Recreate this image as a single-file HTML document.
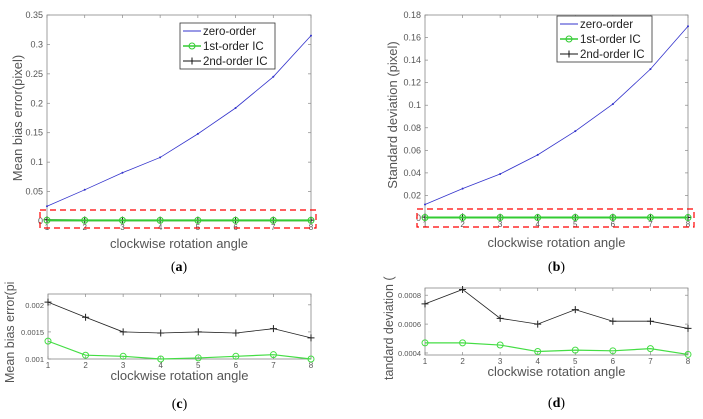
<!DOCTYPE html>
<html><head><meta charset="utf-8"><style>
body{margin:0;background:#fff;width:703px;height:419px;overflow:hidden;font-family:"Liberation Sans",sans-serif}
svg{display:block}
</style></head><body>
<svg id="s" width="703" height="419" xmlns="http://www.w3.org/2000/svg"></svg>
<script>
const cats=[1,2,3,4,5,6,7,8];
const aZero=[0.025,0.053,0.082,0.108,0.148,0.192,0.245,0.315];
const aFirst=[0.00133,0.00107,0.00105,0.001,0.00102,0.00105,0.00108,0.001];
const aSecond=[0.00205,0.00177,0.0015,0.00148,0.0015,0.00148,0.00156,0.00139];
const bZero=[0.012,0.026,0.039,0.056,0.077,0.101,0.132,0.170];
const bFirst=[0.00047,0.00047,0.000455,0.00041,0.00042,0.000415,0.00043,0.00039];
const bSecond=[0.00074,0.00084,0.00064,0.0006,0.0007,0.00062,0.00062,0.00057];
const aTicks=[0,0.05,0.1,0.15,0.2,0.25,0.3,0.35];
const bTicks=[0,0.02,0.04,0.06,0.08,0.1,0.12,0.14,0.16,0.18];
const cTicks=[0.001,0.0015,0.002];
const dTicks=[0.0004,0.0006,0.0008];
const S=document.getElementById('s');
const NS='http://www.w3.org/2000/svg';
function mk(t,a,p){const e=document.createElementNS(NS,t);for(const k in a)e.setAttribute(k,a[k]);(p||S).appendChild(e);return e;}
function panel(o){
  const g=mk('g',{});
  
  
  const X=v=>o.x0+(v-1)/7*(o.x1-o.x0);
  const Y=v=>o.yb+(v-o.ymin)/(o.ymax-o.ymin)*(o.yt-o.yb);
  const fr=mk('rect',{x:o.x0,y:o.yt,width:o.x1-o.x0,height:o.yb-o.yt,fill:'#fff',stroke:'#888','stroke-width':0.8},g);
  
  o.ticks.forEach((t,i)=>{const y=Y(t);
    mk('line',{x1:o.x0,x2:o.x0+3,y1:y,y2:y,stroke:'#888','stroke-width':0.7},g);
    mk('line',{x1:o.x1,x2:o.x1-3,y1:y,y2:y,stroke:'#888','stroke-width':0.7},g);
    const tx=mk('text',{x:o.x0-4,y:y+3,'text-anchor':'end','font-size':o.tf,fill:'#555'},g);tx.textContent=o.tl[i];
    });
  cats.forEach(c=>{const x=X(c);
    mk('line',{x1:x,x2:x,y1:o.yb,y2:o.yb-3,stroke:'#888','stroke-width':0.7},g);
    mk('line',{x1:x,x2:x,y1:o.yt,y2:o.yt+3,stroke:'#888','stroke-width':0.7},g);
    const tx=mk('text',{x:x,y:o.yb+9,'text-anchor':'middle','font-size':8,fill:'#555'},g);tx.textContent=c;
    });
  o.series.forEach(s=>{
    const pts=s.d.map((v,i)=>X(cats[i])+','+Y(v)).join(' ');
    const l=mk('polyline',{points:pts,fill:'none',stroke:s.c,'stroke-width':s.w},g);
    
    s.d.forEach((v,i)=>{const x=X(cats[i]),y=Y(v);
      if(s.m==='o'){const m=mk('circle',{cx:x,cy:y,r:3,fill:'none',stroke:s.c,'stroke-width':1},g);}
      if(s.m==='+'){const m=mk('path',{d:`M${x-3.5},${y}h7M${x},${y-3.5}v7`,stroke:s.c,'stroke-width':1},g);}
      if(s.m==='.'){const m=mk('circle',{cx:x,cy:y,r:1,fill:s.c},g);}
    });
  });
  const xl=mk('text',{x:(o.x0+o.x1)/2,y:o.xly,'text-anchor':'middle','font-size':13,fill:'#555'},g);xl.textContent='clockwise rotation angle';
  
  const yl=mk('text',{x:0,y:0,transform:`translate(${o.ylx},${o.yly}) rotate(-90)`,'text-anchor':o.yla,'font-size':o.ylf||13,fill:'#555'},g);yl.textContent=o.ylab;
  
  const cap=mk('text',{x:(o.x0+o.x1)/2,y:o.capy,'text-anchor':'middle','font-size':14,'font-family':'Liberation Serif,serif',fill:'#000'},g);
  cap.innerHTML='(<tspan font-weight="bold">'+o.cap+'</tspan>)';
  
  if(o.red){const r=mk('rect',{x:o.red[0],y:o.red[1],width:o.red[2],height:o.red[3],fill:'none',stroke:'#f00','stroke-width':1.2,'stroke-dasharray':'6,4'},g);
    }
  if(o.leg){const [lx,ly]=o.leg;
    const lg=mk('g',{},g);
    mk('rect',{x:lx,y:ly,width:95,height:46,fill:'#fff',stroke:'#333','stroke-width':0.8},lg);
    const names=['zero-order','1st-order IC','2nd-order IC'];
    o.series.slice().reverse().forEach((s,i)=>{const y=ly+8+i*15;
      const e=mk('g',{},lg);
      mk('line',{x1:lx+3,x2:lx+21,y1:y,y2:y,stroke:s.c,'stroke-width':s.w>1?1.5:1},e);
      if(s.m==='o')mk('circle',{cx:lx+12,cy:y,r:3,fill:'none',stroke:s.c},e);
      if(s.m==='+')mk('path',{d:`M${lx+8.5},${y}h7M${lx+12},${y-3.5}v7`,stroke:s.c},e);
      const t=mk('text',{x:lx+23,y:y+4,'font-size':11.5,fill:'#222'},e);t.textContent=names[i];});
  }
}
panel({name:'chart-a',x0:47,x1:311,yt:15,yb:221,ymin:0,ymax:0.35,ticks:aTicks,tl:['0','0.05','0.1','0.15','0.2','0.25','0.3','0.35'],tf:9,
 series:[{d:aSecond,c:'#111',w:1,m:'+',n:'series-2nd-order-ic'},{d:aFirst,c:'#3c3',w:2,m:'o',n:'series-1st-order-ic'},{d:aZero,c:'#33c',w:0.8,m:'.',n:'series-zero-order'}],
 xly:248,ylx:22,yly:118,yla:'middle',ylab:'Mean bias error(pixel)',capy:271,cap:'a',red:[40,210,276,18],leg:[180,23]});
panel({name:'chart-b',x0:425,x1:688,yt:15,yb:218,ymin:0,ymax:0.18,ticks:bTicks,tl:['0','0.02','0.04','0.06','0.08','0.1','0.12','0.14','0.16','0.18'],tf:9,
 series:[{d:bSecond,c:'#111',w:1,m:'+',n:'series-2nd-order-ic'},{d:bFirst,c:'#3c3',w:2,m:'o',n:'series-1st-order-ic'},{d:bZero,c:'#33c',w:0.8,m:'.',n:'series-zero-order'}],
 xly:247,ylx:397,yly:115,yla:'middle',ylab:'Standard deviation (pixel)',capy:271,cap:'b',red:[417,209,277,18],leg:[557,16]});
panel({name:'chart-c',x0:48,x1:311,yt:294,yb:359,ymin:0.001,ymax:0.0022,ticks:cTicks,tl:['0.001','0.0015','0.002'],tf:7.5,
 series:[{d:aSecond,c:'#222',w:0.8,m:'+',n:'series-2nd-order-ic'},{d:aFirst,c:'#4d4',w:1.2,m:'o',n:'series-1st-order-ic'}],
 xly:380,ylx:14,yly:383,yla:'start',ylf:12.5,ylab:'Mean bias error(pi',capy:408,cap:'c'});
panel({name:'chart-d',x0:425,x1:688,yt:288,yb:355,ymin:0.000386,ymax:0.00085,ticks:dTicks,tl:['0.0004','0.0006','0.0008'],tf:7.5,
 series:[{d:bSecond,c:'#222',w:0.8,m:'+',n:'series-2nd-order-ic'},{d:bFirst,c:'#4d4',w:1.2,m:'o',n:'series-1st-order-ic'}],
 xly:376,ylx:393,yly:380,yla:'start',ylf:12.5,ylab:'tandard deviation (',capy:407,cap:'d'});
</script>
</body></html>
